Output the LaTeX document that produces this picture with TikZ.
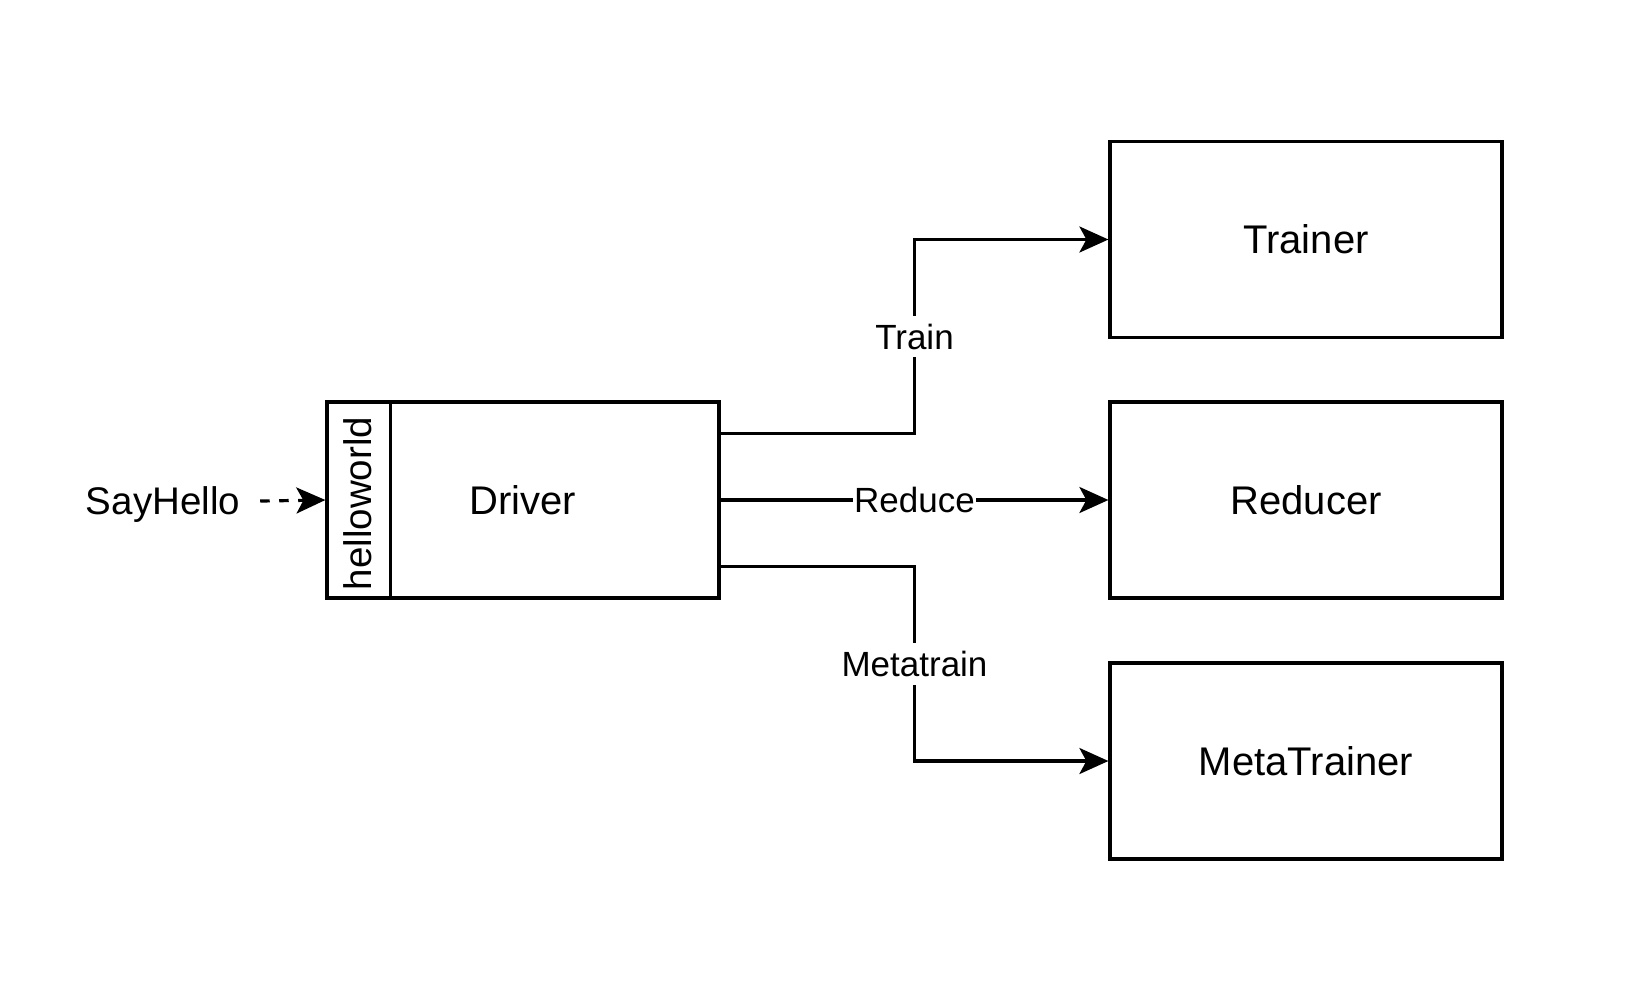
\documentclass[tikz,border=0pt]{standalone}
\usepackage{fontspec}
\setmainfont{Liberation Sans}
\usetikzlibrary{arrows.meta,calc}
\begin{document}
\begin{tikzpicture}[x=1pt,y=-1pt,
  box/.style={draw=black,line width=3.2pt,minimum width=392pt,minimum height=196pt,inner sep=0pt,font=\fontsize{40}{48}\selectfont},
  arr/.style={draw=black,line width=3.2pt,-{Stealth[length=29pt,width=26pt,inset=7pt]}},
  dasharr/.style={arr,dash pattern=on 9.5pt off 9.5pt},
  elabel/.style={fill=white,inner xsep=1.5pt,inner ysep=8pt,font=\fontsize{35}{42}\selectfont},
  plain/.style={inner sep=0pt,font=\fontsize{38.5}{46}\selectfont}]
\useasboundingbox[fill=white] (0,0) rectangle (1643,991);
\node[box] (trainer) at (1306,239.5) {Trainer};
\node[box] (reducer) at (1306,500) {Reducer};
\node[box] (metatrainer) at (1306,761) {MetaTrainer};
\node[box] (driver) at (523,500) {Driver};
\draw[line width=3.2pt] (driver.north west) ++(65,0) coordinate (dtop) -- ++(0,196) coordinate (dbot);
\node[plain,rotate=90] (hw) at ($(driver.west)!0.5!(driver.west-|dtop)+(0,3.5)$) {helloworld};
\node[plain,inner xsep=20pt,text depth=0pt] (say) at (163,501) {SayHello};
\draw[dasharr] (say.east) -- (driver.west);
\coordinate (p1) at ($(driver.north east)!1/6!(driver.south east)$);
\coordinate (p3) at ($(driver.north east)!5/6!(driver.south east)$);
\coordinate (m1) at ($(p1)!0.5!(trainer.west)$);
\coordinate (m3) at ($(p3)!0.5!(metatrainer.west)$);
\draw[arr] (p1) -| (m1) |- (trainer.west);
\node[elabel] (ltrain) at (m1) {Train};
\draw[arr] (driver.east) -- node[elabel] (lreduce) {Reduce} (reducer.west);
\draw[arr] (p3) -| (m3) |- (metatrainer.west);
\node[elabel] (lmeta) at (m3) {Metatrain};
\end{tikzpicture}
\end{document}
